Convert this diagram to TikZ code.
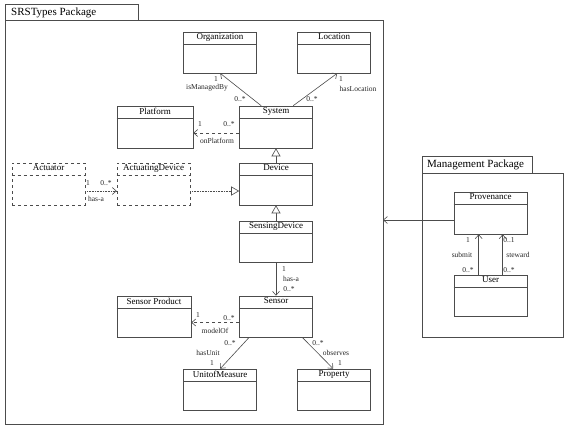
\documentclass[tikz,border=0pt]{standalone}
\usepackage{fontspec}
\setmainfont{Liberation Serif}
\usetikzlibrary{arrows.meta,calc}
\begin{document}
\begin{tikzpicture}[x=1pt,y=-1pt,
  ln/.style={draw=black!70, line width=0.6pt},
  cls/.style={ln, rectangle, minimum width=73pt, minimum height=41pt, inner sep=0pt, fill=white},
  ttl/.style={anchor=north, inner sep=0pt, yshift=-2pt, font=\fontsize{9}{10}\selectfont},
  dcls/.style={cls, dashed},
  lab/.style={font=\fontsize{7.5}{8}\selectfont, inner sep=0.5pt, text=black!85},
  pkg/.style={font=\fontsize{11}{12}\selectfont, anchor=west, inner sep=0pt},
  openv/.style={-{Straight Barb[length=4pt,width=7pt]}},
  gen/.style={-{Triangle[open,length=8pt,width=9pt,fill=white]}},
]
\useasboundingbox (0,0) rectangle (567,431);
% packages
\draw[ln] (5,4) rectangle (138,20);
\draw[ln] (5,20) rectangle (383,424);
\node[pkg] (srsname) at (11,12.5) {SRSTypes Package};
\draw[ln] (422,156) rectangle (532,173);
\draw[ln] (422,173) rectangle (563,337);
\node[pkg] (mgmtname) at (427,165) {Management Package};

% classes
\node[cls] (org) at (220,52.5) {};
\node[cls] (loc) at (334,52.5) {};
\node[cls, minimum height=42pt] (sys) at (276,127) {};
\node[cls, minimum width=76pt, minimum height=42pt] (plat) at (155,127) {};
\node[cls, minimum height=42pt] (dev) at (276,184) {};
\node[dcls, minimum height=42pt] (act) at (48.5,184) {};
\node[dcls, minimum height=42pt] (adev) at (153.5,184) {};
\node[cls] (sdev) at (276,241.5) {};
\node[cls] (sen) at (276,316.5) {};
\node[cls, minimum width=74pt] (sprod) at (154,316.5) {};
\node[cls] (uom) at (220,389.5) {};
\node[cls] (prop) at (334,389.5) {};
\node[cls, minimum height=42pt] (prov) at (490.5,213) {};
\node[cls] (user) at (490.5,295.5) {};

\foreach \n/\t in {org/Organization, loc/Location, sys/System, plat/Platform, dev/Device, sdev/SensingDevice, sen/Sensor, sprod/Sensor Product, uom/UnitofMeasure, prop/Property, prov/Provenance, user/User}{
  \node[ttl] at (\n.north) {\t};
  \draw[ln] ($(\n.north west)+(0,13)$) -- ($(\n.north east)+(0,13)$);
}
\foreach \n/\t in {act/Actuator, adev/ActuatingDevice}{
  \node[ttl] at (\n.north) {\t};
  \draw[ln, dashed] ($(\n.north west)+(0,13)$) -- ($(\n.north east)+(0,13)$);
}

% connectors
\draw[ln, openv] ($(sys.north west)+(22,0)$) -- ($(org.south west)+(37,0)$);
\node[lab] at (216,79) {1};
\node[lab] at (207,88) {isManagedBy};
\node[lab] at (240,99) {0..*};

\draw[ln, openv] ($(sys.north west)+(54,0)$) -- ($(loc.south west)+(40,0)$);
\node[lab] at (341,79) {1};
\node[lab] at (358,89) {hasLocation};
\node[lab] at (312,99) {0..*};

\draw[ln, dashed, openv] ($(sys.west)+(0,6)$) -- ($(plat.east)+(0,6)$);
\node[lab] at (200,124) {1};
\node[lab] at (229,124) {0..*};
\node[lab] at (217,141) {onPlatform};

\draw[ln, gen] (dev.north) -- (sys.south);
\draw[ln, gen] (sdev.north) -- (dev.south);

\draw[ln, densely dotted, openv] ($(act.east)+(0,7)$) -- ($(adev.west)+(0,7)$);
\node[lab] at (88,183) {1};
\node[lab] at (106,183) {0..*};
\node[lab] at (96,199) {has-a};
\draw[ln, densely dotted, gen] ($(adev.east)+(0,7)$) -- ($(dev.west)+(0,7)$);

\draw[ln, openv] (sdev.south) -- (sen.north);
\node[lab] at (284,269) {1};
\node[lab] at (291,279) {has-a};
\node[lab] at (289,289) {0..*};

\draw[ln, dashed, openv] ($(sen.west)+(0,6)$) -- ($(sprod.east)+(0,6)$);
\node[lab] at (198,315) {1};
\node[lab] at (229,318) {0..*};
\node[lab] at (215,331) {modelOf};

\draw[ln, openv] ($(sen.south west)+(10,0)$) -- ($(uom.north west)+(37,0)$);
\node[lab] at (230,343) {0..*};
\node[lab] at (208,353) {hasUnit};
\node[lab] at (212,363) {1};

\draw[ln, openv] ($(sen.south west)+(63,0)$) -- ($(prop.north west)+(36,0)$);
\node[lab] at (318,343) {0..*};
\node[lab] at (336,353) {observes};
\node[lab] at (340,363) {1};

\coordinate (srsedge) at (383,220);
\draw[ln, openv] ($(prov.west)+(0,7)$) -- (srsedge);

\draw[ln, openv] ($(user.north west)+(25,0)$) -- ($(prov.south west)+(25,0)$);
\draw[ln, openv] ($(user.north west)+(49,0)$) -- ($(prov.south west)+(49,0)$);
\node[lab] at (468,240) {1};
\node[lab] at (509,240) {0..1};
\node[lab] at (462,255) {submit};
\node[lab] at (518,255) {steward};
\node[lab] at (468,270) {0..*};
\node[lab] at (509,270) {0..*};
\end{tikzpicture}
\end{document}
